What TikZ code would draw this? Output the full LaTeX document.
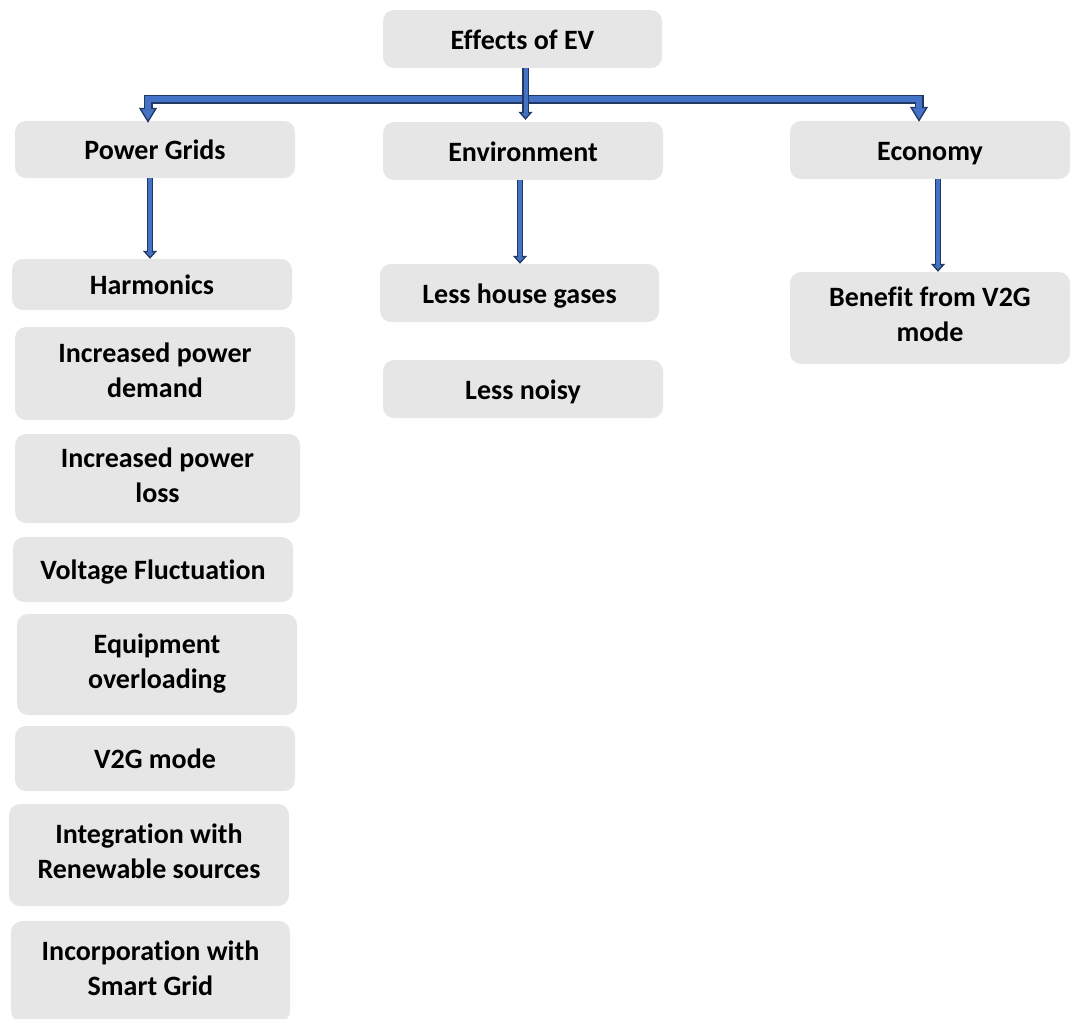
\documentclass[tikz,border=0pt]{standalone}
\usepackage{fontspec}
\setmainfont{Carlito}[Ligatures=NoCommon]
\usetikzlibrary{arrows.meta}
\definecolor{boxgray}{RGB}{231,230,230}
\definecolor{arrblue}{RGB}{68,114,196}
\definecolor{arrdark}{RGB}{32,56,100}
\newcommand\boxstrut{\rule[-6.8pt]{0pt}{33.8pt}}
\begin{document}
\begin{tikzpicture}[x=1pt,y=-1pt,
  box/.style={fill=boxgray, rounded corners=11pt, minimum width=280pt, inner sep=0pt, align=center,
    font=\fontsize{28}{35}\selectfont\bfseries, text=black,
    execute at begin node=\boxstrut, execute at end node=\boxstrut},
  bigout/.style={draw=arrdark, line width=9pt, line join=miter,
    -{Triangle[length=15pt,width=18pt,fill=arrblue,line width=1.3pt]}},
  bigin/.style={draw=arrblue, line width=6pt, line join=miter, shorten >=14pt},
  smallout/.style={draw=arrdark, line width=#1, line join=miter,
    -{Triangle[length=8pt,width=14pt,fill=arrblue,line width=1.3pt]}},
  smallin/.style={draw=arrblue, line width=#1, shorten >=7pt},
]
\useasboundingbox (0,0) rectangle (1073,1018);

% top level
\node[box, minimum width=279pt, minimum height=58pt] (eff) at (522.5,39) {Effects of EV};
\node[box, minimum height=57pt] (pg) at (155,149.5) {Power Grids};
\node[box, minimum height=58pt] (env) at (523,151) {Environment};
\node[box, minimum height=58pt] (eco) at (930,150) {Economy};

% power grid column
\node[box, minimum height=51pt] (harm) at (152,284.5) {Harmonics};
\node[box, minimum height=93pt] (dem) at (155,373.5) {Increased power\\demand};
\node[box, minimum width=285pt, minimum height=89pt] (loss) at (157.5,478.5) {Increased power\\loss};
\node[box, minimum height=65pt] (volt) at (153,569.5) {Voltage Fluctuation};
\node[box, minimum height=101pt] (equip) at (157,664.5) {Equipment\\overloading};
\node[box, minimum height=65pt] (v2g) at (155,758.5) {V2G mode};
\node[box, minimum height=102pt] (integ) at (149,855) {Integration with\\Renewable sources};
\node[box, minimum width=279pt, minimum height=101pt] (incorp) at (150.5,971.5) {Incorporation with\\Smart Grid};

% environment column
\node[box, minimum width=279pt, minimum height=58pt] (lhg) at (519.5,293) {Less house gases};
\node[box, minimum height=58pt] (noisy) at (523,389) {Less noisy};

% economy column
\node[box, minimum height=92pt] (ben) at (930,318) {Benefit from V2G\\mode};

% junction on the trunk
\path ([xshift=3pt]eff.south) ++(0,31) coordinate (j);

% bent block arrows (outline pass, then fill pass)
\draw[bigout] (j) -| ([xshift=-7pt,yshift=-2pt]pg.north);
\draw[bigout] (j) -| ([xshift=-11pt,yshift=-1pt]eco.north);
\draw[bigin] (j) -| ([xshift=-7pt,yshift=-2pt]pg.north);
\draw[bigin] (j) -| ([xshift=-11pt,yshift=-1pt]eco.north);

% trunk from Effects to Environment
\draw[smallout=7pt] ([xshift=3pt]eff.south) -- ([xshift=3pt,yshift=2pt]eff.south |- env.north);
\draw[smallin=4pt] ([xshift=3pt]eff.south) -- ([xshift=3pt,yshift=2pt]eff.south |- env.north);

% vertical arrows to first children
\draw[smallout=6.5pt] ([xshift=-5pt]pg.south) -- ([xshift=-5pt]pg.south |- harm.north);
\draw[smallin=3.5pt] ([xshift=-5pt]pg.south) -- ([xshift=-5pt]pg.south |- harm.north);
\draw[smallout=6.5pt] ([xshift=-3pt]env.south) -- ([xshift=-3pt]env.south |- lhg.north);
\draw[smallin=3.5pt] ([xshift=-3pt]env.south) -- ([xshift=-3pt]env.south |- lhg.north);
\draw[smallout=6.5pt] ([xshift=8pt]eco.south) -- ([xshift=8pt]eco.south |- ben.north);
\draw[smallin=3.5pt] ([xshift=8pt]eco.south) -- ([xshift=8pt]eco.south |- ben.north);
\end{tikzpicture}
\end{document}
